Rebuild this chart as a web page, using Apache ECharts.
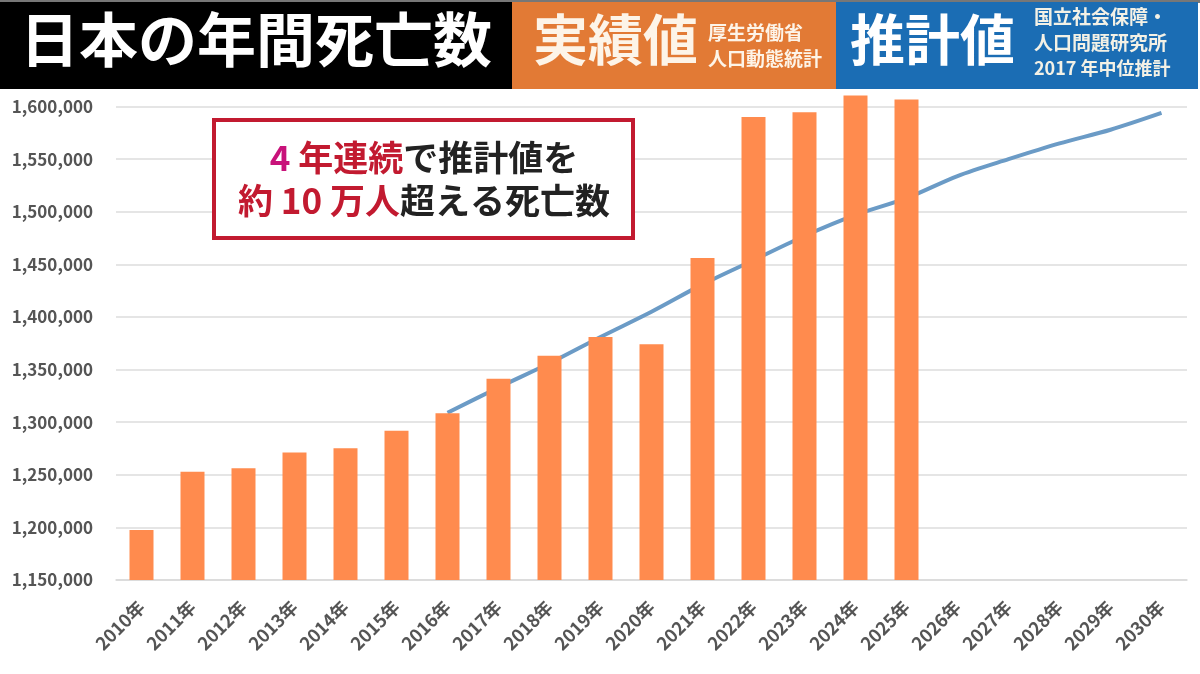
<!DOCTYPE html>
<html>
<head>
<meta charset="utf-8">
<script src="https://cdn.jsdelivr.net/npm/echarts@6/dist/echarts.min.js"></script>
<style>
  html, body { margin: 0; padding: 0; background: #fff; }
  #chart { width: 1200px; height: 674px; }
</style>
</head>
<body>
<div id="chart"></div>
<script>
var years = ['2010年', '2011年', '2012年', '2013年', '2014年', '2015年', '2016年', '2017年', '2018年', '2019年',
  '2020年', '2021年', '2022年', '2023年', '2024年', '2025年', '2026年', '2027年', '2028年', '2029年', '2030年'];

// 実績値 (厚生労働省 人口動態統計)
var actualDeaths = [1197600, 1253000, 1256300, 1271100, 1275300, 1291800, 1308600, 1341200, 1363100, 1380900,
  1374200, 1456000, 1590200, 1594600, 1610500, 1606700, null, null, null, null, null];

// 推計値 (2017 年中位推計)
var projectedDeaths = [null, null, null, null, null, null, 1309000, 1333000, 1356000, 1381000,
  1405000, 1431000, 1454000, 1477000, 1497000, 1513000, 1534000, 1550000, 1565000, 1578000, 1594000];

// last labelled tick is 1,600,000; one more step sits under the header so the tallest bar isn't cut
var yMin = 1150000;
var yTopLabel = 1600000;
var yMax = 1650000;
var yStep = 50000;

var jp = '"Noto Sans CJK JP", "Noto Sans", sans-serif';

var chart = echarts.init(document.getElementById('chart'));

chart.setOption({
  backgroundColor: '#ffffff',
  animation: false,
  grid: { left: 116, right: 13, top: 54, bottom: 94, containLabel: false },
  xAxis: {
    type: 'category',
    data: years,
    axisLine: { show: true, lineStyle: { color: '#d9d9d9', width: 1.5 } },
    axisTick: { show: false },
    axisLabel: {
      rotate: 45,
      margin: 24,
      color: '#555',
      fontFamily: jp,
      fontWeight: 'bold',
      fontSize: 18
    }
  },
  yAxis: {
    type: 'value',
    min: yMin,
    max: yMax,
    interval: yStep,
    axisLine: { show: false },
    axisTick: { show: false },
    splitLine: { lineStyle: { color: '#dcdcdc', width: 1.5 } },
    axisLabel: {
      margin: 23,
      color: '#555',
      fontFamily: jp,
      fontWeight: 'bold',
      fontSize: 17,
      formatter: function (v) { return v > yTopLabel ? '' : v.toLocaleString('en-US'); }
    }
  },
  series: [
    {
      name: '推計値',
      type: 'line',
      data: projectedDeaths,
      smooth: 0.3,
      symbol: 'none',
      z: 1,
      lineStyle: { color: '#6b9bc6', width: 4 }
    },
    {
      name: '実績値',
      type: 'bar',
      data: actualDeaths,
      barWidth: 24,
      z: 3,
      itemStyle: { color: '#ff8b4e' }
    }
  ],
  graphic: [
    { type: 'rect', shape: { x: 0, y: 0, width: 1200, height: 3 }, style: { fill: '#777' }, z: 10 },
    { type: 'rect', shape: { x: 0, y: 2, width: 512, height: 87 }, style: { fill: '#000' }, z: 10 },
    { type: 'rect', shape: { x: 512, y: 2, width: 324, height: 87 }, style: { fill: '#e27a35' }, z: 10 },
    { type: 'rect', shape: { x: 836, y: 2, width: 362, height: 87 }, style: { fill: '#1b6db4' }, z: 10 },
    {
      type: 'text', left: 20, top: 10, z: 11,
      style: { text: '日本の年間死亡数', fill: '#fff', font: 'bold 59px ' + jp }
    },
    {
      type: 'text', left: 533, top: 12, z: 11,
      style: { text: '実績値', fill: '#fdf4e8', font: 'bold 55px ' + jp }
    },
    {
      type: 'text', left: 708, top: 20, z: 11,
      style: { text: '厚生労働省\n人口動態統計', fill: '#fdf4e8', font: 'bold 19px ' + jp, lineHeight: 26 }
    },
    {
      type: 'text', left: 850, top: 12, z: 11,
      style: { text: '推計値', fill: '#ffffff', font: 'bold 55px ' + jp }
    },
    {
      type: 'text', left: 1034, top: 7, z: 11,
      style: {
        text: '{a|国立社会保障・}\n{a|人口問題研究所}\n{b|2017 年中位推計}',
        rich: {
          a: { fill: '#f3f1e6', font: 'bold 19px ' + jp, lineHeight: 26 },
          b: { fill: '#f3f1e6', font: 'bold 18px ' + jp, lineHeight: 26 }
        }
      }
    },
    {
      type: 'rect', z: 10,
      shape: { x: 214, y: 120, width: 419, height: 118 },
      style: { fill: '#fff', stroke: '#c21a30', lineWidth: 4 }
    },
    {
      type: 'text', x: 424, y: 179, z: 11,
      style: {
        text: '{m|4 }{r|年連続}{k|で推計値を}\n{r|約 10 万人}{k|超える死亡数}',
        align: 'center',
        verticalAlign: 'middle',
        lineHeight: 43,
        rich: {
          m: { fill: '#c8127a', font: 'bold 35px ' + jp, lineHeight: 43 },
          r: { fill: '#c21a30', font: 'bold 35px ' + jp, lineHeight: 43 },
          k: { fill: '#222', font: 'bold 35px ' + jp, lineHeight: 43 }
        }
      }
    }
  ]
});
</script>
</body>
</html>
